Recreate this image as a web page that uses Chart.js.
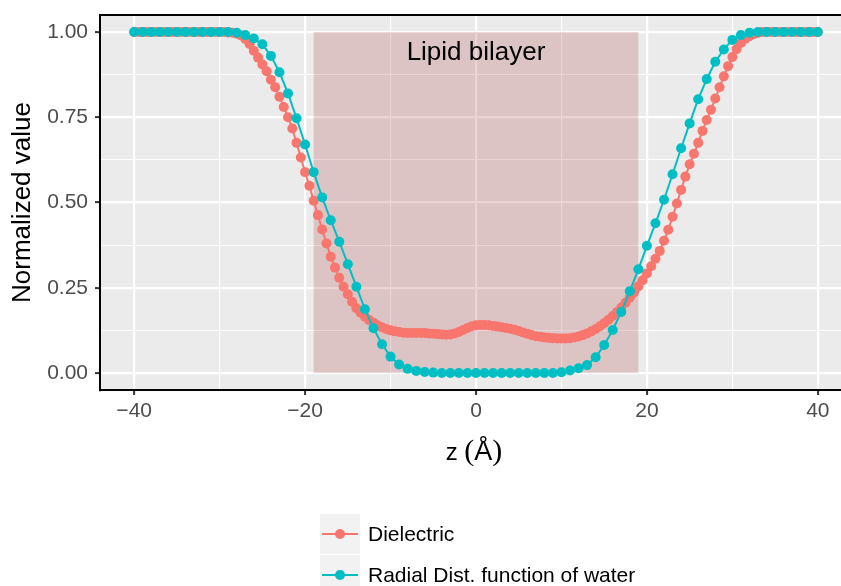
<!DOCTYPE html>
<html>
<head>
<meta charset="utf-8">
<script src="https://cdn.jsdelivr.net/npm/chart.js@4.4.1/dist/chart.umd.min.js"></script>
<style>
  body { margin: 0; background: #fff; overflow: hidden; }
  #wrap { width: 880px; height: 586px; }
</style>
</head>
<body>
<div id="wrap"><canvas id="myChart" width="880" height="586"></canvas></div>
<script>
// series names and colours
const seriesNames = ["Dielectric", "Radial Dist. function of water"];
const seriesColors = ["#F8766D", "#00BFC4"];

// water RDF, one value per angstrom from -40 to 40
const rdfValues = [
    1, 1, 1, 1, 1, 1, 1, 1, 1, 1, 1, 1,
    0.998, 0.991, 0.981, 0.964, 0.93, 0.882, 0.82, 0.747, 0.67, 0.589,
    0.515, 0.448, 0.385, 0.319, 0.253, 0.187, 0.131, 0.084, 0.048, 0.025,
    0.012, 0.006, 0.003, 0.001,
    0, 0, 0, 0, 0, 0, 0, 0, 0, 0, 0, 0, 0, 0,
    0.002, 0.007, 0.014, 0.023, 0.046, 0.082, 0.126, 0.179, 0.24, 0.304,
    0.373, 0.439, 0.508, 0.583, 0.659, 0.732, 0.803, 0.862, 0.913, 0.949,
    0.977, 0.991, 0.998,
    1, 1, 1, 1, 1, 1, 1, 1
];

// dielectric profile, one value per half angstrom from -40 to 40
const dielectricValues = [
    1, 1, 1, 1, 1, 1, 1, 1, 1, 1, 1, 1, 1, 1, 1, 1, 1, 1, 1, 1, 1, 1,
    0.999, 0.998,
    0.995, 0.99, 0.98, 0.965, 0.945, 0.925, 0.905, 0.885, 0.86, 0.838,
    0.81, 0.78, 0.75, 0.717, 0.675, 0.632, 0.589, 0.549, 0.505, 0.463,
    0.421, 0.38, 0.341, 0.309, 0.279, 0.253, 0.231, 0.209, 0.19, 0.177,
    0.165, 0.155, 0.147, 0.14, 0.134, 0.129, 0.125, 0.122, 0.12, 0.118,
    0.117, 0.117, 0.117, 0.117, 0.117, 0.116, 0.115, 0.114, 0.113, 0.112,
    0.113, 0.116, 0.12, 0.126, 0.132, 0.137, 0.14, 0.141, 0.141, 0.14,
    0.138, 0.136, 0.134, 0.132, 0.13, 0.127, 0.123, 0.119, 0.115, 0.111,
    0.108, 0.106, 0.104, 0.103, 0.102, 0.101, 0.101, 0.101, 0.102, 0.104,
    0.107, 0.111, 0.116, 0.122, 0.129, 0.137, 0.146, 0.156, 0.167, 0.179,
    0.192, 0.206, 0.221, 0.237, 0.254, 0.272, 0.292, 0.313, 0.335, 0.358,
    0.388, 0.42, 0.458, 0.497, 0.537, 0.576, 0.612, 0.643, 0.675, 0.71,
    0.742, 0.772, 0.805, 0.838, 0.87, 0.9, 0.927, 0.95, 0.968, 0.98,
    0.988, 0.994, 0.998,
    1, 1, 1, 1, 1, 1, 1, 1, 1, 1, 1, 1, 1, 1
];

const zStart = -40;
const rdfStep = 1;
const dielectricStep = 0.5;

// bilayer region and its label
const bilayerRange = [-19, 19];
const bilayerLabel = "Lipid bilayer";
const bilayerLabelPos = [0, 0.94];

// axes
const xRange = [-44, 44];
const yRange = [-0.05, 1.05];
const xTicks = [-40, -20, 0, 20, 40];
const xTickLabels = ["\u221240", "\u221220", "0", "20", "40"];
const xMinor = [-30, -10, 10, 30];
const yTicks = [0, 0.25, 0.5, 0.75, 1];
const yTickLabels = ["0.00", "0.25", "0.50", "0.75", "1.00"];
const yMinor = [0.125, 0.375, 0.625, 0.875];
const yTitle = "Normalized value";

function toPoints(values, step) {
    return values.map((v, i) => ({ x: zStart + i * step, y: v }));
}

function tickLabel(majors, labels) {
    return function(value) {
        const i = majors.indexOf(value);
        return i >= 0 ? labels[i] : "";
    };
}

function gridStyle(majors) {
    return {
        color: "#FFFFFF",
        lineWidth: ctx => majors.includes(ctx.tick.value) ? 2.2 : 1.1,
        drawTicks: true,
        tickLength: 5,
        tickWidth: 2,
        tickColor: ctx => majors.includes(ctx.tick.value) ? "#333333" : "rgba(0,0,0,0)"
    };
}

const sansFont = "'Liberation Sans', Arial, Helvetica, sans-serif";

const panelPlugin = {
    id: "panel",
    beforeDraw(chart) {
        const { ctx, chartArea: a } = chart;
        ctx.save();
        ctx.fillStyle = "#EBEBEB";
        ctx.fillRect(a.left, a.top, a.right - a.left, a.bottom - a.top);
        ctx.restore();
    },
    beforeDatasetsDraw(chart) {
        const { ctx, scales } = chart;
        const x0 = scales.x.getPixelForValue(bilayerRange[0]);
        const x1 = scales.x.getPixelForValue(bilayerRange[1]);
        const y0 = scales.y.getPixelForValue(1);
        const y1 = scales.y.getPixelForValue(0);
        ctx.save();
        ctx.fillStyle = "rgba(165, 42, 42, 0.2)";
        ctx.fillRect(x0, y0, x1 - x0, y1 - y0);
        ctx.fillStyle = "#000000";
        ctx.font = "26px " + sansFont;
        ctx.textAlign = "center";
        ctx.textBaseline = "middle";
        ctx.fillText(bilayerLabel, scales.x.getPixelForValue(bilayerLabelPos[0]),
            scales.y.getPixelForValue(bilayerLabelPos[1]));
        ctx.restore();
    },
    afterDraw(chart) {
        const { ctx, chartArea: a } = chart;
        ctx.save();
        // top border of the panel
        ctx.strokeStyle = "#000000";
        ctx.lineWidth = 2;
        ctx.beginPath();
        ctx.moveTo(a.left - 1, a.top);
        ctx.lineTo(a.right, a.top);
        ctx.stroke();

        // y title
        ctx.fillStyle = "#000000";
        ctx.font = "26px " + sansFont;
        ctx.textAlign = "center";
        ctx.textBaseline = "middle";
        ctx.translate(23, (a.top + a.bottom) / 2);
        ctx.rotate(-Math.PI / 2);
        ctx.fillText(yTitle, 0, 0);
        ctx.restore();

        // x title: z (Å)
        ctx.save();
        ctx.fillStyle = "#000000";
        ctx.textBaseline = "alphabetic";
        ctx.textAlign = "left";
        const parts = [
            { t: "z ", f: "24px " + sansFont },
            { t: "(", f: "30px 'Liberation Serif', serif" },
            { t: "\u00C5", f: "27px " + sansFont },
            { t: ")", f: "30px 'Liberation Serif', serif" }
        ];
        let total = 0;
        parts.forEach(p => { ctx.font = p.f; p.w = ctx.measureText(p.t).width; total += p.w; });
        let px = (a.left + a.right) / 2 - total / 2 - 2;
        parts.forEach(p => { ctx.font = p.f; ctx.fillText(p.t, px, 460); px += p.w; });
        ctx.restore();

        // legend
        ctx.save();
        const keyLeft = 320, keyTop = 514, keySize = 40;
        seriesNames.forEach((name, i) => {
            const top = keyTop + i * (keySize + 1);
            ctx.fillStyle = "#F2F2F2";
            ctx.fillRect(keyLeft, top, keySize, keySize);
            const cy = top + keySize / 2;
            ctx.strokeStyle = seriesColors[i];
            ctx.lineWidth = 2;
            ctx.beginPath();
            ctx.moveTo(keyLeft + 2, cy);
            ctx.lineTo(keyLeft + keySize - 2, cy);
            ctx.stroke();
            ctx.fillStyle = seriesColors[i];
            ctx.beginPath();
            ctx.arc(keyLeft + keySize / 2, cy, 5, 0, Math.PI * 2);
            ctx.fill();
            ctx.fillStyle = "#000000";
            ctx.font = "21px " + sansFont;
            ctx.textAlign = "left";
            ctx.textBaseline = "middle";
            ctx.fillText(name, keyLeft + keySize + 8, cy + 1);
        });
        ctx.restore();
    }
};

const ctx = document.getElementById("myChart").getContext("2d");
const myChart = new Chart(ctx, {
    type: "line",
    data: {
        datasets: [
            {
                label: seriesNames[0],
                data: toPoints(dielectricValues, dielectricStep),
                borderColor: seriesColors[0],
                backgroundColor: seriesColors[0],
                pointBackgroundColor: seriesColors[0],
                borderWidth: 2,
                pointRadius: 5,
                pointBorderWidth: 0,
                order: 2
            },
            {
                label: seriesNames[1],
                data: toPoints(rdfValues, rdfStep),
                borderColor: seriesColors[1],
                backgroundColor: seriesColors[1],
                pointBackgroundColor: seriesColors[1],
                borderWidth: 2,
                pointRadius: 5,
                pointBorderWidth: 0,
                order: 1
            }
        ]
    },
    options: {
        responsive: false,
        animation: false,
        layout: { padding: { left: 0, top: 15, right: 28, bottom: 136 } },
        plugins: { legend: { display: false }, tooltip: { enabled: false } },
        scales: {
            x: {
                type: "linear",
                min: xRange[0],
                max: xRange[1],
                afterBuildTicks: s => { s.ticks = xTicks.concat(xMinor).sort((a, b) => a - b).map(v => ({ value: v })); },
                afterFit: s => { s.height = 60; s.paddingLeft = 0; s.paddingRight = 0; },
                ticks: {
                    autoSkip: false,
                    maxRotation: 0,
                    padding: 4,
                    color: "#4D4D4D",
                    font: { family: sansFont, size: 21 },
                    callback: tickLabel(xTicks, xTickLabels)
                },
                grid: gridStyle(xTicks),
                border: { display: true, color: "#000000", width: 2 }
            },
            y: {
                type: "linear",
                min: yRange[0],
                max: yRange[1],
                afterBuildTicks: s => { s.ticks = yTicks.concat(yMinor).sort((a, b) => a - b).map(v => ({ value: v })); },
                afterFit: s => { s.width = 100; s.paddingTop = 0; s.paddingBottom = 0; },
                ticks: {
                    autoSkip: false,
                    padding: 7,
                    color: "#4D4D4D",
                    font: { family: sansFont, size: 21 },
                    callback: tickLabel(yTicks, yTickLabels)
                },
                grid: gridStyle(yTicks),
                border: { display: true, color: "#000000", width: 2 }
            }
        }
    },
    plugins: [panelPlugin]
});
</script>
</body>
</html>
